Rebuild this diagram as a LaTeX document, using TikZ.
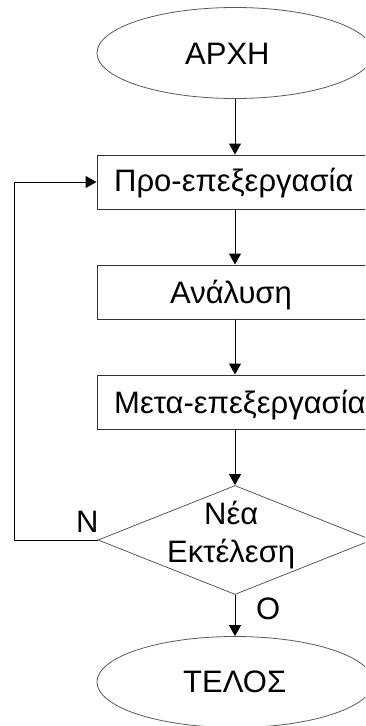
\documentclass[tikz,border=0pt]{standalone}
\usepackage{fontspec}
\setmainfont{Liberation Sans}
\usetikzlibrary{shapes.geometric,arrows.meta}
\begin{document}
\begin{tikzpicture}[x=1pt,y=1pt,
  every node/.style={font=\fontsize{31}{37}\selectfont},
  term/.style={ellipse,draw=black!65,line width=0.8pt,minimum width=276pt,minimum height=91pt,inner sep=0pt},
  proc/.style={rectangle,draw=black!80,line width=1pt,minimum width=276pt,minimum height=54pt,inner sep=0pt},
  dec/.style={diamond,draw=black!65,line width=0.8pt,minimum width=274pt,minimum height=109pt,inner sep=0pt},
  lbl/.style={inner sep=0pt,anchor=base west},
  conn/.style={line width=1pt,-{Triangle[length=11pt,width=12pt]}}]
\useasboundingbox (0,0) rectangle (365,-726);
\clip (0,0) rectangle (365,-726);
\node[term] (start) at (235,-53) {};
\node[lbl] (startt) at (185,-64) {ΑΡΧΗ};
\node[proc] (pre) at (235,-182) {};
\node[lbl] (pret) at (114,-191) {Προ-επεξεργασία};
\node[proc] (ana) at (235,-292) {};
\node[lbl] (anat) at (170,-303) {Ανάλυση};
\node[proc] (post) at (235,-402) {};
\node[lbl] (postt) at (114,-413) {Μετα-επεξεργασία};
\node[dec] (dec) at (235,-540) {};
\node[lbl] (dec1) at (204,-524) {Νέα};
\node[lbl] (dec2) at (167,-562) {Εκτέλεση};
\node[term] (end) at (235,-682) {};
\node[lbl] (endt) at (183,-692) {ΤΕΛΟΣ};
\node[lbl] (ny) at (76,-532) {Ν};
\node[lbl] (nn) at (256,-619) {Ο};
\coordinate (c1) at (14,-540);
\coordinate (c2) at (14,-182);
\draw[conn] (start.south) -- (pre.north);
\draw[conn] (pre.south) -- (ana.north);
\draw[conn] (ana.south) -- (post.north);
\draw[conn] (post.south) -- (dec.north);
\draw[conn] (dec.south) -- (end.north);
\draw[conn] (dec.west) -- (c1) -- (c2) -- (pre.west);
\end{tikzpicture}
\end{document}
